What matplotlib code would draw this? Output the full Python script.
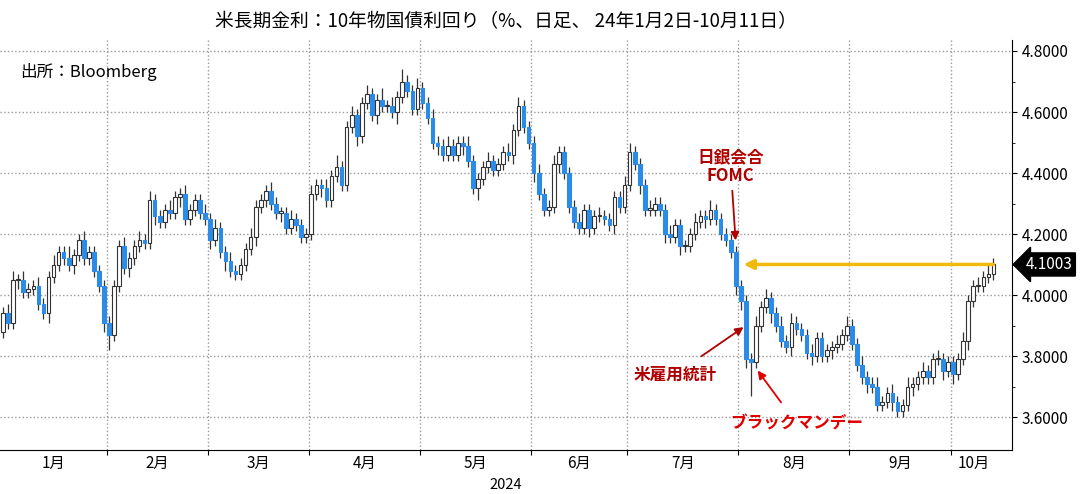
import numpy as np
import matplotlib.pyplot as plt
from matplotlib.patches import Rectangle

plt.rcParams['font.family'] = ['Noto Sans CJK JP', 'DejaVu Sans']

# ─── DATA (daily closes, wicks in bp/100) ─────────────────────────────────────
months = ["1月", "2月", "3月", "4月", "5月", "6月", "7月", "8月", "9月", "10月"]
jan = [3.94, 3.91, 4.05, 4.05, 4.01, 4.02, 4.03, 3.97, 3.94, 4.06, 4.10, 4.14, 4.12, 4.10, 4.13, 4.18, 4.12, 4.14, 4.08, 4.03, 3.91]
feb = [3.87, 4.03, 4.16, 4.09, 4.12, 4.16, 4.18, 4.17, 4.31, 4.26, 4.24, 4.28, 4.27, 4.32, 4.33, 4.25, 4.28, 4.31, 4.27, 4.25]
mar = [4.18, 4.22, 4.14, 4.11, 4.08, 4.07, 4.10, 4.15, 4.19, 4.29, 4.31, 4.34, 4.30, 4.27, 4.27, 4.22, 4.25, 4.23, 4.19, 4.20]
apr = [4.33, 4.36, 4.35, 4.31, 4.39, 4.42, 4.36, 4.55, 4.59, 4.52, 4.63, 4.66, 4.59, 4.64, 4.62, 4.62, 4.60, 4.65, 4.70, 4.67, 4.61, 4.68]
may = [4.63, 4.58, 4.50, 4.49, 4.46, 4.49, 4.46, 4.50, 4.49, 4.44, 4.35, 4.38, 4.42, 4.44, 4.41, 4.43, 4.47, 4.46, 4.54, 4.62, 4.55, 4.50]
jun = [4.40, 4.33, 4.28, 4.29, 4.43, 4.47, 4.40, 4.29, 4.24, 4.22, 4.28, 4.22, 4.26, 4.26, 4.25, 4.23, 4.32, 4.29, 4.36]
jul = [4.47, 4.43, 4.36, 4.28, 4.28, 4.30, 4.28, 4.20, 4.19, 4.23, 4.16, 4.16, 4.20, 4.24, 4.26, 4.25, 4.28, 4.25, 4.20, 4.18, 4.14, 4.03]
aug = [3.98, 3.79, 3.78, 3.90, 3.96, 3.99, 3.94, 3.90, 3.85, 3.83, 3.91, 3.89, 3.87, 3.81, 3.80, 3.86, 3.80, 3.82, 3.83, 3.84, 3.87, 3.90]
sep = [3.84, 3.77, 3.73, 3.71, 3.70, 3.64, 3.65, 3.68, 3.65, 3.62, 3.64, 3.70, 3.71, 3.73, 3.75, 3.73, 3.79, 3.79, 3.75, 3.78]
octo = [3.74, 3.79, 3.85, 3.98, 4.03, 4.03, 4.06, 4.07, 4.1003]
first_open = 3.88

wick_up = [2, 3, 3, 2, 3, 2, 2, 3, 2, 2, 3, 2, 2, 4, 2, 2, 3, 2, 2, 2, 2,
           2, 2, 2, 3, 2, 2, 3, 2, 3, 2, 2, 2, 3, 2, 2, 3, 2, 2, 2, 3,
           2, 3, 2, 2, 3, 2, 2, 2, 3, 2, 2, 2, 3, 2, 2, 2, 3, 2, 2, 2,
           3, 2, 2, 3, 2, 4, 2, 2, 3, 2, 2, 3, 2, 2, 4, 2, 3, 2, 4, 2, 2, 3,
           2, 2, 3, 2, 2, 3, 2, 2, 2, 3, 2, 2, 2, 3, 2, 2, 2, 3, 2, 3, 2, 2,
           2, 3, 2, 2, 3, 2, 2, 2, 2, 3, 2, 2, 2, 3, 2, 2, 2, 2, 3,
           3, 2, 2, 2, 3, 2, 2, 2, 3, 2, 2, 2, 2, 3, 2, 2, 3, 2, 2, 2, 2, 2,
           2, 2, 2, 3, 2, 3, 2, 2, 3, 2, 3, 2, 2, 2, 3, 2, 2, 2, 2, 3, 2, 3,
           2, 2, 3, 2, 2, 3, 2, 2, 3, 2, 2, 3, 2, 2, 3, 2, 2, 3, 2, 2,
           2, 2, 3, 2, 2, 3, 2, 3, 2]
wick_dn = [2, 2, 2, 3, 2, 2, 2, 2, 2, 3, 2, 2, 2, 2, 3, 2, 2, 2, 2, 2, 3,
           5, 2, 2, 2, 3, 2, 2, 2, 2, 3, 2, 2, 2, 2, 3, 2, 2, 2, 2, 2,
           3, 2, 2, 3, 2, 2, 2, 2, 2, 3, 2, 2, 2, 2, 3, 2, 2, 2, 2, 2,
           2, 2, 3, 2, 2, 2, 2, 2, 2, 3, 2, 2, 2, 3, 2, 2, 2, 4, 2, 2, 2, 2,
           2, 2, 2, 3, 2, 2, 2, 2, 3, 2, 2, 4, 2, 2, 2, 2, 2, 2, 3, 2, 2, 2,
           3, 2, 2, 2, 2, 3, 2, 2, 2, 2, 2, 3, 2, 2, 2, 2, 3, 2, 2,
           2, 2, 3, 2, 2, 2, 2, 3, 2, 2, 3, 2, 2, 2, 2, 3, 2, 2, 2, 2, 2, 3,
           3, 3, 11, 2, 2, 2, 3, 2, 2, 2, 3, 2, 2, 2, 3, 2, 2, 2, 3, 2, 2, 2,
           2, 2, 2, 3, 2, 2, 2, 2, 3, 2, 2, 2, 3, 2, 2, 2, 2, 2, 3, 2,
           3, 2, 2, 3, 2, 2, 2, 2, 2]
last_value = 4.1003
# ──────────────────────────────────────────────────────────────────────────────

groups = [jan, feb, mar, apr, may, jun, jul, aug, sep, octo]
closes = np.array(sum(groups, []))
opens = np.concatenate([[first_open], closes[:-1]])
n = len(closes)
highs = np.maximum(opens, closes) + np.array(wick_up[:n]) / 100
lows = np.minimum(opens, closes) - np.array(wick_dn[:n]) / 100
bounds = np.cumsum([0] + [len(g) for g in groups])

BLUE = '#2B8BE6'
DARKRED = '#B00000'

fig = plt.figure(figsize=(10.82, 4.94), dpi=100)
ax = fig.add_axes([0.0, 0.089, 0.935, 0.83])

for i in range(n):
    o, c = opens[i], closes[i]
    ax.vlines(i, lows[i], highs[i], color='#333333', lw=0.9, zorder=2)
    up = c >= o
    h = max(abs(c - o), 0.004)
    ax.add_patch(Rectangle((i - 0.36, min(o, c)), 0.72, h,
                           facecolor='white' if up else BLUE,
                           edgecolor='#333333' if up else BLUE,
                           lw=0.8, zorder=3))

ax.set_xlim(-0.6, n + 2.6)
ax.set_ylim(3.492, 4.836)

ax.yaxis.tick_right()
ax.set_yticks([3.6, 3.8, 4.0, 4.2, 4.4, 4.6, 4.8])
ax.set_yticklabels([f"{v:.4f}" for v in [3.6, 3.8, 4.0, 4.2, 4.4, 4.6, 4.8]], fontsize=11)
ax.set_yticks([3.7, 3.9, 4.1, 4.3, 4.5, 4.7], minor=True)

edges = bounds[1:-1] - 0.5
ax.set_xticks(edges)
ax.set_xticklabels([])
ax.set_xticks((np.concatenate([[-0.5], edges]) + np.concatenate([edges, [n - 0.5]])) / 2, minor=True)
ax.set_xticklabels(months, minor=True, fontsize=11)
ax.tick_params(axis='x', which='minor', length=0)
ax.grid(True, which='major', ls=':', color='#999999', lw=1)
for s in ['top', 'left']:
    ax.spines[s].set_visible(False)
fig.text(0.467, 0.005, "2024", ha='center', va='bottom', fontsize=10.5)

ax.set_title("米長期金利：10年物国債利回り（%、日足、 24年1月2日-10月11日）", fontsize=13.5, pad=9)
ax.text(0.02, 0.91, "出所：Bloomberg", transform=ax.transAxes, fontsize=12)

# value tag
ax.annotate(f"{last_value:.4f}", xy=(1.0, last_value), xycoords=('axes fraction', 'data'),
            xytext=(10, 0), textcoords='offset points', va='center', ha='left',
            color='white', fontsize=11, annotation_clip=False,
            bbox=dict(boxstyle='larrow,pad=0.2', fc='black', ec='black'))

# yellow arrow
jul31 = bounds[7] - 1
ax.annotate("", xy=(jul31 + 1, last_value), xytext=(n - 0.5, last_value),
            arrowprops=dict(arrowstyle='-|>', color='#F2B90F', lw=2.5, mutation_scale=14))

# events
ax.annotate("日銀会合\nFOMC", xy=(jul31, 4.17), xytext=(jul31 - 1, 4.36),
            ha='center', va='bottom', color=DARKRED, fontsize=12, fontweight='bold',
            linespacing=1.1,
            arrowprops=dict(arrowstyle='-|>', color=DARKRED, lw=1.3))
ax.annotate("米雇用統計", xy=(jul31 + 2, 3.90), xytext=(jul31 - 12, 3.74),
            ha='center', va='center', color=DARKRED, fontsize=12, fontweight='bold',
            arrowprops=dict(arrowstyle='-|>', color=DARKRED, lw=1.3, shrinkA=8))
ax.annotate("ブラックマンデー", xy=(jul31 + 4, 3.76), xytext=(jul31 + 12, 3.58),
            ha='center', va='center', color='#E00000', fontsize=12, fontweight='bold',
            arrowprops=dict(arrowstyle='-|>', color='#E00000', lw=1.3, shrinkA=8))

fig.savefig("out.png", dpi=100)
